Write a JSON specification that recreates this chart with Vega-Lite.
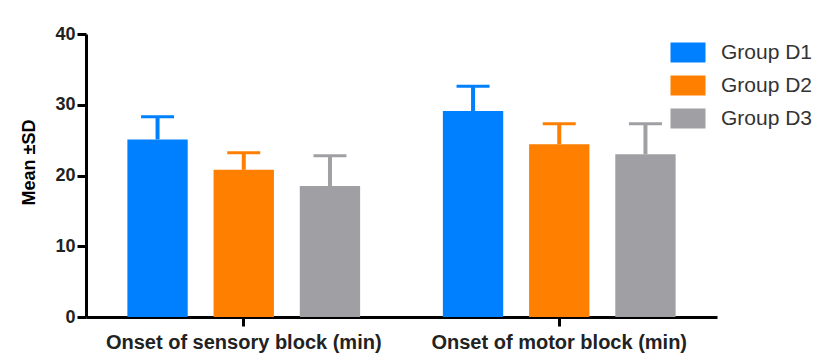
{
  "$schema": "https://vega.github.io/schema/vega-lite/v6.json",
  "autosize": {"type": "none"},
  "width": 631,
  "height": 283,
  "padding": {"left": 86, "top": 34, "right": 104, "bottom": 46},
  "background": "white",
  "config": {
    "view": {"stroke": null},
    "font": "Liberation Sans",
    "axis": {"grid": false, "domainColor": "black", "domainWidth": 3, "tickColor": "black", "tickWidth": 3, "tickSize": 9, "labelFont": "Liberation Sans", "labelFontWeight": "bold", "labelColor": "#222"},
    "axisX": {"labelFontSize": 20, "labelPadding": 6, "labelLimit": 500, "labelAngle": 0},
    "axisY": {"labelFontSize": 18, "labelPadding": 2, "titleFontSize": 18, "titleFontWeight": "bold", "titleColor": "black", "titleFont": "Liberation Sans", "titleX": -48, "titleY": 128, "titleAngle": -90, "titleAlign": "center", "titleBaseline": "bottom"}
  },
  "data": {
    "values": [
      {"block": "Onset of sensory block (min)", "group": "Group D1", "mean": 25.1, "upper": 28.3},
      {"block": "Onset of sensory block (min)", "group": "Group D2", "mean": 20.8, "upper": 23.2},
      {"block": "Onset of sensory block (min)", "group": "Group D3", "mean": 18.5, "upper": 22.8},
      {"block": "Onset of motor block (min)", "group": "Group D1", "mean": 29.1, "upper": 32.6},
      {"block": "Onset of motor block (min)", "group": "Group D2", "mean": 24.4, "upper": 27.3},
      {"block": "Onset of motor block (min)", "group": "Group D3", "mean": 23.0, "upper": 27.3}
    ]
  },
  "encoding": {
    "x": {
      "field": "block", "type": "nominal", "sort": null,
      "scale": {"paddingInner": 0, "paddingOuter": 0},
      "axis": {"title": null}
    },
    "xOffset": {"field": "group", "type": "nominal", "scale": {"paddingInner": 0.3, "paddingOuter": 0.48}},
    "color": {
      "field": "group", "type": "nominal",
      "scale": {"domain": ["Group D1", "Group D2", "Group D3"], "range": ["#0080ff", "#ff8000", "#a0a0a4"]},
      "legend": {
        "title": null, "orient": "none", "legendX": 591.5, "legendY": 8, "padding": 0,
        "symbolType": "M-1.75,-1L1.75,-1L1.75,1L-1.75,1Z", "symbolSize": 400, "symbolStrokeWidth": 0,
        "symbolOpacity": 1,
        "labelFont": "Liberation Sans", "labelFontSize": 21, "labelColor": "#333", "labelOffset": 22.5, "rowPadding": 11
      }
    }
  },
  "layer": [
    {
      "mark": {"type": "rule", "strokeWidth": 4},
      "encoding": {
        "y": {"field": "mean", "type": "quantitative", "scale": {"domain": [0, 40], "nice": false}, "axis": {"values": [0, 10, 20, 30, 40], "title": "Mean ±SD"}},
        "y2": {"field": "upper"}
      }
    },
    {
      "mark": {"type": "tick", "thickness": 3, "size": 33, "opacity": 1},
      "encoding": {"y": {"field": "upper", "type": "quantitative"}}
    },
    {
      "mark": {"type": "bar", "opacity": 1},
      "encoding": {"y": {"field": "mean", "type": "quantitative"}}
    }
  ]
}
